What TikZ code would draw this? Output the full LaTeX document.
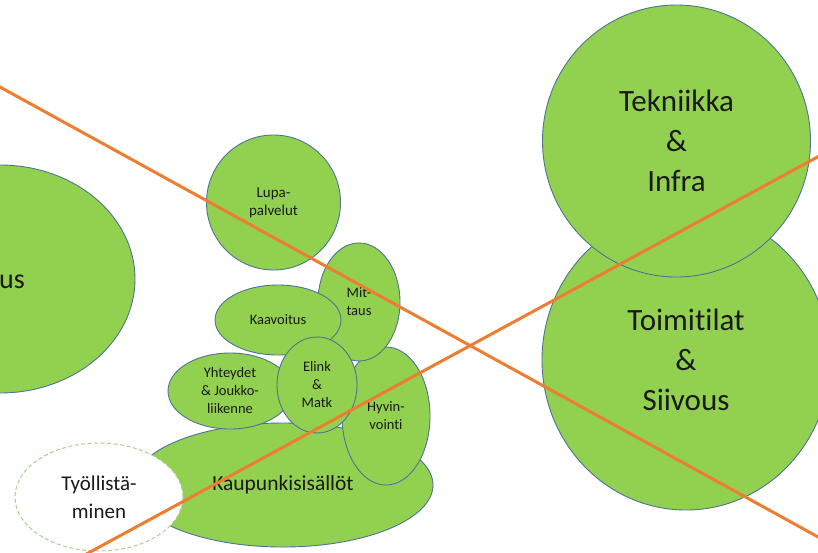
\documentclass[tikz,border=0pt]{standalone}
\usepackage{fontspec}
\setmainfont{Carlito}[Ligatures=NoCommon]
\usepackage{xcolor}
\usetikzlibrary{shapes.geometric}
\definecolor{leaf}{HTML}{92D050}
\definecolor{rim}{HTML}{4F7396}
\definecolor{cross}{HTML}{ED7D31}
\definecolor{paleleaf}{HTML}{A9D18E}
\definecolor{ink}{HTML}{1A1A1A}

\begin{document}
\begin{tikzpicture}[x=1pt,y=-1pt,
  blob/.style={ellipse,draw=rim,fill=leaf,line width=0.9pt,inner sep=0pt,align=center,text=ink},
  wh/.style 2 args={minimum width=#1,minimum height=#2},
  small/.style={font=\fontsize{14.5}{18}\selectfont},
  big/.style={font=\fontsize{31}{40}\selectfont},
  strike/.style={draw=cross,line width=3pt}]
\fill[white] (0,0) rectangle (818,552);
\useasboundingbox (0,0) rectangle (818,552);
\clip (0,0) rectangle (818,552);

\node[blob,wh={270pt}{228pt}] (hallinto) at (0,279) {};
\node[anchor=base east,text=ink,inner sep=0pt,font=\fontsize{28}{34}\selectfont] (hallintotext) at (25,288) {us};

\node[blob,wh={300pt}{124pt},font=\fontsize{21.5}{26}\selectfont] (kaupunki) at (283,485) {Kaupunkisisällöt};
\node[blob,wh={88pt}{138pt},small]  (hyvin)     at (386,416) {Hyvin-\\vointi};
\node[blob,wh={82pt}{118pt},small]  (mittaus)   at (359,302) {Mit-\\taus};
\node[blob,wh={126pt}{70pt},small]  (kaavoitus) at (278,320) {Kaavoitus};
\node[blob,wh={124pt}{76pt},small]  (yhteydet)  at (230,391) {Yhteydet\\\& Joukko-\\liikenne};
\node[blob,wh={80pt}{96pt},small]   (elink)     at (317,385) {Elink\\\&\\Matk};
\node[blob,wh={134pt}{135pt},font=\fontsize{15}{18}\selectfont] (lupa) at (273.5,202.5) {Lupa-\\palvelut};
\node[ellipse,draw=paleleaf,fill=white,line width=1pt,dash pattern=on 4pt off 2.5pt,
      inner sep=0pt,align=center,text=ink,wh={168pt}{108pt},font=\fontsize{21}{28}\selectfont]
      (tyollis) at (99,497) {Työllistä-\\minen};

\node[blob,wh={288pt}{300pt},big] (toimitilat) at (686,360) {Toimitilat\\\&\\Siivous};
\node[blob,wh={268pt}{272pt},big] (tekniikka)  at (676.5,141) {Tekniikka\\\&\\Infra};

% crossing lines
\coordinate (nwend) at (-10,81.5);
\coordinate (seend) at (830,543.5);
\coordinate (swend) at (70,562.9);
\coordinate (neend) at (830,150.2);
\draw[strike] (nwend) -- (seend);
\draw[strike] (swend) -- (neend);
\end{tikzpicture}
\end{document}
